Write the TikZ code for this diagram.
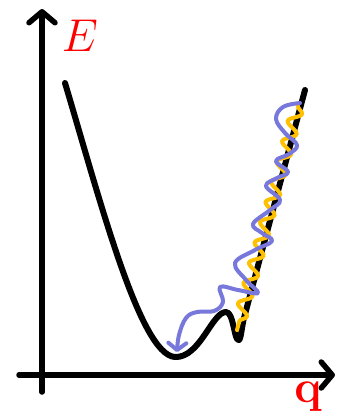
\documentclass[tikz,border=0pt]{standalone}
\usetikzlibrary{arrows.meta,decorations.pathmorphing}
\definecolor{wblue}{RGB}{120,120,220}
\definecolor{wyellow}{RGB}{255,192,0}
\newcommand{\biglab}[1]{\scalebox{1.85}{\Huge #1}}
\begin{document}
\begin{tikzpicture}[x=1pt,y=-1pt,
  axis/.style={line width=5.5pt,line cap=round,-{Straight Barb[length=11pt,width=26pt,round]}},
  pot/.style={line width=6pt,line cap=round,line join=round},
  lab/.style={text=red,inner sep=0pt},
  yel/.style={line width=4pt,wyellow,line cap=round,decorate,decoration={snake,segment length=21pt,amplitude=6pt}},
  blu/.style={line width=4pt,wblue,line cap=round,line join=round,-{Straight Barb[length=7pt,width=18pt,round]}}]
\useasboundingbox (0,0) rectangle (339,417);
% axes
\coordinate (y0) at (42,392);
\coordinate (y1) at (42,9);
\coordinate (x0) at (19,375);
\coordinate (x1) at (335,375);
\draw[axis] (y0) -- (y1);
\draw[axis] (x0) -- (x1);
\node[lab] (E) at (80,36) {\biglab{$E$}};
\node[lab] (q) at (308,397) {\biglab{$\mathbf{q}$}};
% potential curve
\coordinate (p0) at (65,83);
\coordinate (pmin) at (175,357);
\coordinate (phump) at (226,312);
\coordinate (pdip) at (239,340);
\coordinate (ptop) at (305,90);
\draw[pot] (p0) .. controls (100,200) and (140,355) .. (pmin)
  .. controls (200,358) and (212,312) .. (phump)
  .. controls (234,312) and (234,342) .. (pdip)
  .. controls (241,339) and (242,325) .. (244,318) -- (ptop);
% yellow wave
\coordinate (ys) at (298,106);
\coordinate (ye) at (237,330);
\draw[yel] (ys) -- (ye);
% blue wave
\coordinate (bs) at (300,103);
\coordinate (be) at (177,352);
\draw[blu] plot[smooth,tension=0.65] coordinates {(bs) (283,107) (276,119) (285,133) (297,145) (289,154) (276,161) (288,172) (277,178) (266,186) (280,200) (270,210) (253,224) (262,233) (272,241) (255,250) (235,263) (246,280) (258,293) (238,290) (220,287) (223,302) (214,311) (197,312) (186,318) (179,335) (be)};
\end{tikzpicture}
\end{document}
